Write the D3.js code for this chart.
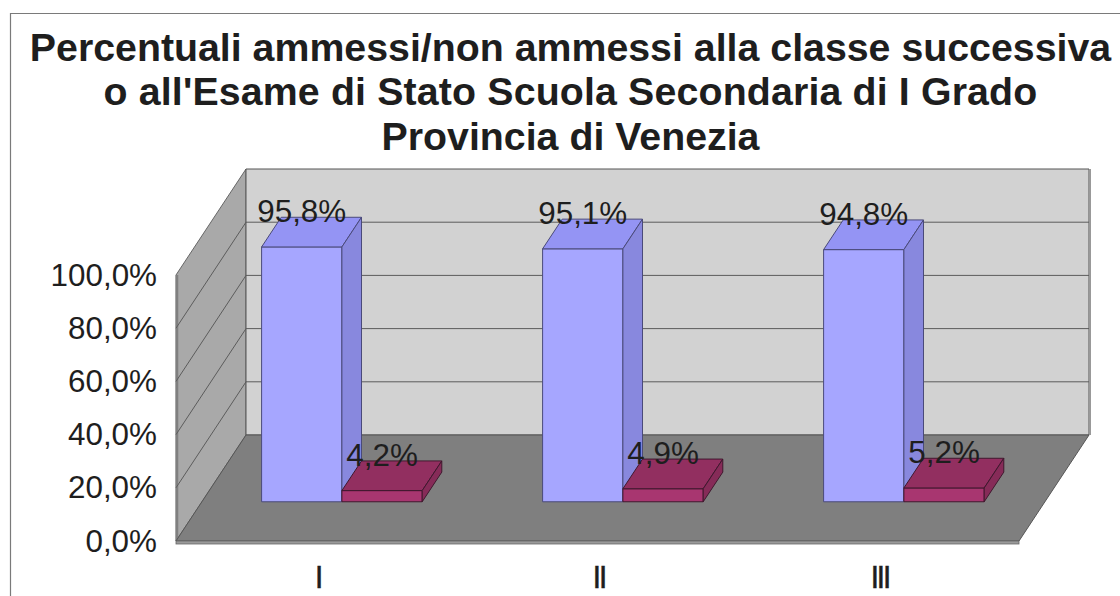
<!DOCTYPE html>
<html><head><meta charset="utf-8">
<script src="https://cdnjs.cloudflare.com/ajax/libs/d3/7.8.5/d3.min.js"></script>
<style>html,body{margin:0;padding:0;background:#fff}svg{display:block}text{font-family:"Liberation Sans",Arial,sans-serif;fill:#1e1e1e}</style>
</head><body><svg id="c" width="1120" height="596"></svg>
<script>
const titleLines = ["Percentuali ammessi/non ammessi alla classe successiva","o all'Esame di Stato Scuola Secondaria di I Grado","Provincia di Venezia"];
const categories = ["I","II","III"];
const ammessi = [95.8,95.1,94.8];
const nonAmmessi = [4.2,4.9,5.2];
const ammessiLabels = ["95,8%","95,1%","94,8%"];
const nonAmmessiLabels = ["4,2%","4,9%","5,2%"];
const yTicks = [0,20,40,60,80,100];
const yTickLabels = ["0,0%","20,0%","40,0%","60,0%","80,0%","100,0%"];

const svg = d3.select("#c");
const xBand = d3.scaleBand().domain(categories).range([176,1019]);
const yS = d3.scaleLinear().domain([0,100]).range([541,275]);
const zX = d3.scaleLinear().domain([0,1]).range([0,70]);
const zY = d3.scaleLinear().domain([0,1]).range([0,-106]);
const P = (x,v,z)=>[x+zX(z), yS(v)+zY(z)];
const poly = (pts,fill,stroke,sw=1)=>svg.append("path").attr("d",d3.line()(pts)+"Z").attr("fill",fill).attr("stroke",stroke).attr("stroke-width",sw).attr("stroke-linejoin","round");
const L=176,R=1019;

// frame
svg.append("path").attr("d","M10.5,596V13.5H1120").attr("fill","none").attr("stroke","#7a7a7a").attr("stroke-width",1.2);

// title
svg.selectAll("text.t").data(titleLines).join("text").attr("class","t").attr("x",570.5).attr("y",(d,i)=>[61,105,150][i])
 .attr("text-anchor","middle").attr("font-size",39.3).attr("font-weight","bold")
 .attr("letter-spacing",(d,i)=>i===1?0.15:0).text(d=>d);

// walls
poly([P(L,0,0),P(L,100,0),P(L,100,1),P(L,0,1)],"#a9a9a9","#666");
poly([P(L,0,1),P(L,100,1),P(R,100,1),P(R,0,1)],"#d2d2d2","#555");
svg.append("path").attr("d",d3.line()([P(R,100,1),P(R,0,1)])).attr("transform","translate(1,0)").attr("stroke","#999").attr("stroke-width",2).attr("fill","none");
svg.append("path").attr("d",d3.line()([P(L,0,0),P(L,100,0)])).attr("transform","translate(1,0)").attr("stroke","#808080").attr("stroke-width",2.5).attr("fill","none");
// grid
yTicks.slice(1,5).forEach(v=>{
  svg.append("path").attr("d",d3.line()([P(L,v,0),P(L,v,1),P(R,v,1)])).attr("fill","none").attr("stroke","#5c5c5c").attr("stroke-width",1);
});
// floor
poly([P(L,0,0),P(L,0,1),P(R,0,1),P(R,0,0)],"#7f7f7f","#555");
svg.append("rect").attr("x",L).attr("y",yS(0)).attr("width",R-L).attr("height",3).attr("fill","#9a9a9a").attr("stroke","#666").attr("stroke-width",.8);

// bars
const z0=.37,z1=.65, bw=80.3;
function bar(x,v,cF,cT,cS,st){
  poly([P(x,0,z0),P(x,v,z0),P(x+bw,v,z0),P(x+bw,0,z0)],cF,st);
  poly([P(x,v,z0),P(x,v,z1),P(x+bw,v,z1),P(x+bw,v,z0)],cT,st);
  poly([P(x+bw,0,z0),P(x+bw,v,z0),P(x+bw,v,z1),P(x+bw,0,z1)],cS,st);
}
categories.forEach((c,i)=>{
  const x0 = xBand(c)+xBand.bandwidth()/2-bw-0.5;
  bar(x0,ammessi[i],"#a6a6ff","#9494f4","#8888de","#4a4a7a");
  bar(x0+bw,nonAmmessi[i],"#a83670","#922f60","#862b58","#40182e");
});
// data labels
categories.forEach((c,i)=>{
  const x0 = xBand(c)+xBand.bandwidth()/2-bw-0.5;
  const a=P(x0,ammessi[i],z0), b=P(x0+bw,nonAmmessi[i],z0);
  svg.append("text").attr("x",a[0]+bw/2).attr("y",a[1]-24.5).attr("text-anchor","middle").attr("font-size",31.4).text(ammessiLabels[i]);
  svg.append("text").attr("x",b[0]+bw/2).attr("y",b[1]-24.5).attr("text-anchor","middle").attr("font-size",31.4).text(nonAmmessiLabels[i]);
});
// y axis labels
const yAxis = d3.axisLeft(yS).tickValues(yTicks).tickSize(0).tickPadding(19).tickFormat((d,i)=>yTickLabels[i]);
const ga = svg.append("g").attr("transform",`translate(${L},0)`).call(yAxis);
ga.select(".domain").remove();
ga.attr("font-family",null).attr("font-size",null);
ga.selectAll("text").attr("font-size",31.4).attr("fill","#1e1e1e").attr("dy",null).attr("y",10);
// x labels
categories.forEach(c=>{
  svg.append("text").attr("x",xBand(c)+xBand.bandwidth()/2+1.2).attr("y",587.5).attr("text-anchor","middle").attr("letter-spacing",-2.6).attr("font-size",31.4).attr("stroke","#1e1e1e").attr("stroke-width",.4).text(c);
});
</script></body></html>
